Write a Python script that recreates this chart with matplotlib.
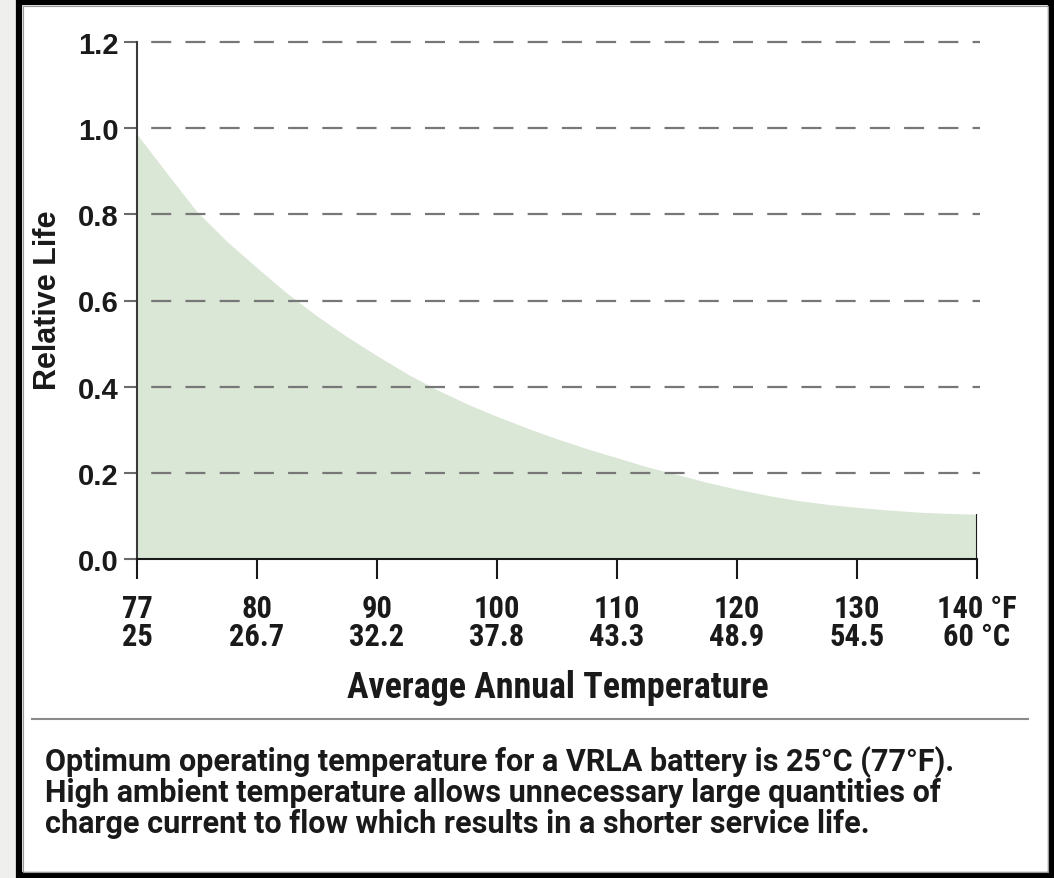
import matplotlib
matplotlib.use("Agg")
import matplotlib.pyplot as plt
from matplotlib.patches import Rectangle
from matplotlib.lines import Line2D

# ---- data ----
temps_f = ['77', '80', '90', '100', '110', '120', '130', '140 °F']
temps_c = ['25', '26.7', '32.2', '37.8', '43.3', '48.9', '54.5', '60 °C']
# curve, position in tick-index units along the (non-linear) axis
curve_pos = [0, 0.25, 0.5, 0.75, 1, 1.25, 1.5, 1.75, 2, 2.25, 2.5, 2.75, 3, 3.25, 3.5,
             3.75, 4, 4.25, 4.5, 4.75, 5, 5.25, 5.5, 5.75, 6, 6.25, 6.5, 6.75, 7]
curve_life = [0.986, 0.895, 0.806, 0.737, 0.676, 0.617, 0.564, 0.516, 0.472, 0.43,
              0.393, 0.36, 0.331, 0.304, 0.279, 0.256, 0.235, 0.214, 0.196, 0.178,
              0.162, 0.148, 0.136, 0.127, 0.12, 0.114, 0.109, 0.106, 0.104]
y_ticks = [0.0, 0.2, 0.4, 0.6, 0.8, 1.0, 1.2]
caption = ["Optimum operating temperature for a VRLA battery is 25°C (77°F).",
           "High ambient temperature allows unnecessary large quantities of",
           "charge current to flow which results in a shorter service life."]

W, H = 1054, 879
NARROW = ['Roboto Condensed', 'Roboto', 'DejaVu Sans']
ROBOTO = ['Roboto', 'DejaVu Sans']
SANS = ['Liberation Sans', 'DejaVu Sans']

def fx(x):
    return x / W

def fy(y):
    return 1 - y / H

fig = plt.figure(figsize=(W / 100, H / 100), dpi=100)
fig.patch.set_facecolor('white')
renderer = fig.canvas.get_renderer()

def fit_width(txt, target_px, horizontal=True):
    bb = txt.get_window_extent(renderer=renderer)
    size = bb.width if horizontal else bb.height
    txt.set_fontsize(txt.get_fontsize() * target_px / size)

# left light strip and frame
fig.patches.append(Rectangle((0, 0), fx(16), 1, transform=fig.transFigure,
                             facecolor='#efefed', edgecolor='none', zorder=0))
fig.patches.append(Rectangle((fx(19), fy(876)), fx(1051) - fx(19), fy(3) - fy(876),
                             transform=fig.transFigure, facecolor='none',
                             edgecolor='black', linewidth=4.5, zorder=5))
fig.patches.append(Rectangle((fx(22.5), fy(872.5)), fx(1047.5) - fx(22.5), fy(7) - fy(872.5),
                             transform=fig.transFigure, facecolor='none',
                             edgecolor='#9a9a9a', linewidth=0.8, zorder=5))

# axes
ax = fig.add_axes([fx(137), fy(560), fx(977) - fx(137), fy(43) - fy(560)])
ax.set_xlim(0, len(temps_f) - 1)
ax.set_ylim(0, 1.2)

ax.fill_between(curve_pos, curve_life, 0, color='#dbe7d6', linewidth=0, zorder=1)
ax.vlines(curve_pos[-1], 0, curve_life[-1], color='#1a1a1a', linewidth=1.5, zorder=3)

for yv in y_ticks[1:]:
    ax.axhline(yv, xmin=0, xmax=1.004, color='#777777', linewidth=1.6,
               linestyle=(9.0, (9.0, 6.4)), clip_on=False, zorder=2)

for s in ['top', 'right']:
    ax.spines[s].set_visible(False)
ax.spines['left'].set_color('#3a3a3a')
ax.spines['left'].set_linewidth(1.5)
ax.spines['bottom'].set_color('#1a1a1a')
ax.spines['bottom'].set_linewidth(1.5)

ax.set_yticks(y_ticks)
ax.set_yticklabels([f'{v:.1f}' for v in y_ticks], fontfamily=SANS,
                   fontweight='bold', fontsize=21, color='#1a1a1a')
ax.tick_params(axis='y', length=9.5, width=1.5, color='#6a6a6a', pad=4)

ax.set_xticks(range(len(temps_f)))
ax.set_xticklabels([f'{f}\n{c}' for f, c in zip(temps_f, temps_c)],
                   fontfamily=NARROW, fontweight='bold', fontsize=22,
                   color='#1a1a1a', linespacing=0.92)
ax.tick_params(axis='x', length=14.5, width=1.5, color='#1a1a1a', pad=10)

ax.set_ylabel('Relative Life', fontfamily=SANS, fontweight='bold', fontsize=19,
              color='#1a1a1a')
ax.yaxis.set_label_coords((48 - 137) / 840, 0.503)
ax.yaxis.label.set_va('center')
fit_width(ax.yaxis.label, 180, horizontal=False)

ax.set_xlabel('Average Annual Temperature', fontfamily=NARROW, fontweight='bold',
              fontsize=21, color='#1a1a1a')
ax.xaxis.set_label_coords(0.501, (560 - 688) / 517)
ax.xaxis.label.set_va('center')
fit_width(ax.xaxis.label, 422)

# separator line
fig.lines.append(Line2D([fx(32), fx(1028)], [fy(720), fy(720)], transform=fig.transFigure,
                        color='#8a8a8a', linewidth=1.5))

# caption
cap_texts = []
for i, line in enumerate(caption):
    t = fig.text(fx(45), fy(771 + 31 * i), line, fontfamily=ROBOTO, fontweight='bold',
                 fontsize=20, color='#1a1a1a', ha='left', va='baseline')
    cap_texts.append(t)
fit_width(cap_texts[0], 977)
fs = min(cap_texts[0].get_fontsize(), 22)
for t in cap_texts:
    t.set_fontsize(fs)

fig.savefig('out.png', dpi=100)
